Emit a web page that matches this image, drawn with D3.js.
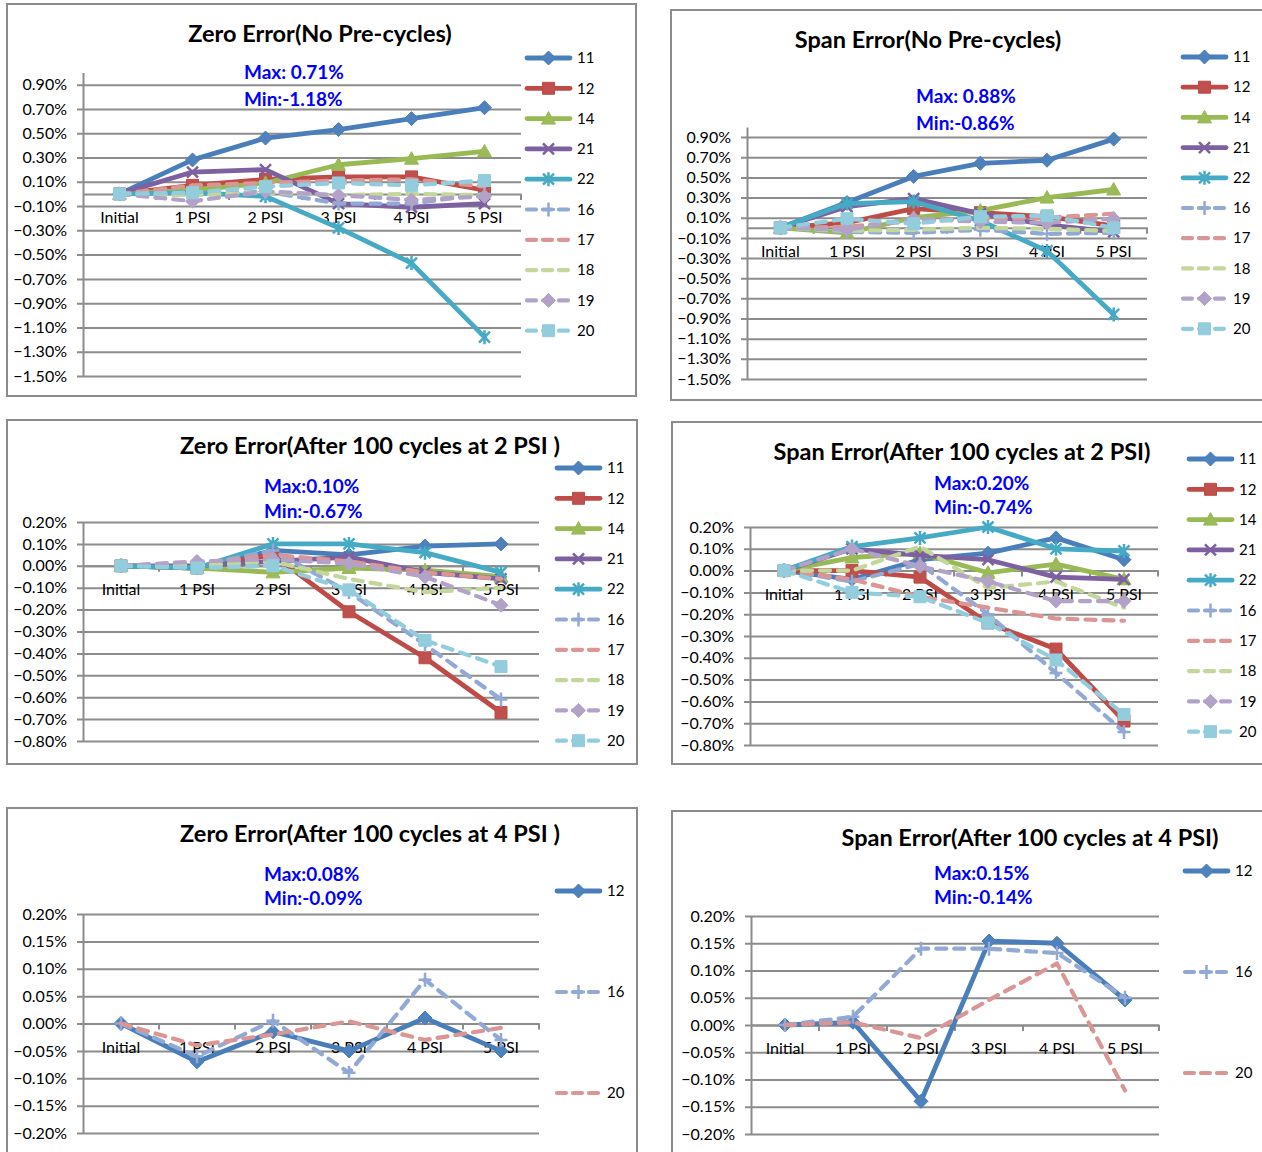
<!DOCTYPE html>
<html><head><meta charset="utf-8">
<script src="https://cdn.jsdelivr.net/npm/d3@7"></script>
<style>
body{margin:0;background:#fff;}
text{font-family:Lato,"Open Sans","DejaVu Sans",sans-serif;}
</style>
</head><body>
<svg id="chart" width="1262" height="1152"></svg>
<script>
// ---------------- DATA ----------------
const categories = ["Initial", "1 PSI", "2 PSI", "3 PSI", "4 PSI", "5 PSI"];
const seriesTop = ["11", "12", "14", "21", "22", "16", "17", "18", "19", "20"];
const seriesBottom = ["12", "16", "20"];

// values in % ; rows follow seriesTop / seriesBottom order
const zeroNoPre = [
  [0, 0.28, 0.46, 0.53, 0.62, 0.71],
  [0, 0.07, 0.12, 0.14, 0.14, 0.03],
  [0, 0.03, 0.09, 0.24, 0.29, 0.35],
  [0, 0.18, 0.20, -0.08, -0.11, -0.08],
  [0, 0.01, -0.02, -0.28, -0.57, -1.18],
  [0, -0.01, 0.02, -0.08, -0.08, 0.00],
  [0, 0.07, 0.09, 0.11, 0.12, 0.06],
  [0, -0.01, 0.01, -0.01, 0.00, -0.01],
  [0, -0.06, 0.02, -0.01, -0.05, -0.02],
  [0, 0.01, 0.06, 0.09, 0.07, 0.11]
];
const spanNoPre = [
  [0, 0.25, 0.51, 0.64, 0.67, 0.88],
  [0, 0.05, 0.19, 0.15, 0.11, 0.02],
  [0, -0.05, 0.10, 0.17, 0.30, 0.38],
  [0, 0.21, 0.29, 0.14, 0.03, -0.04],
  [0, 0.24, 0.26, 0.07, -0.23, -0.86],
  [0, -0.04, -0.05, -0.02, -0.06, -0.05],
  [0, 0.01, 0.07, 0.09, 0.10, 0.14],
  [0, -0.03, -0.02, 0.00, -0.01, -0.03],
  [0, -0.02, 0.09, 0.06, 0.05, 0.09],
  [0, 0.09, 0.04, 0.11, 0.12, 0.00]
];
const zeroAfter2 = [
  [0, -0.01, 0.07, 0.05, 0.09, 0.10],
  [0, -0.01, 0.05, -0.21, -0.42, -0.67],
  [0, -0.01, -0.03, -0.01, -0.02, -0.05],
  [0, 0.00, 0.02, 0.04, -0.03, -0.06],
  [0, -0.01, 0.10, 0.10, 0.06, -0.03],
  [0, 0.00, 0.07, -0.12, -0.36, -0.61],
  [0, 0.01, 0.05, 0.02, -0.03, -0.06],
  [0, 0.00, 0.02, -0.06, -0.12, -0.10],
  [0, 0.02, 0.03, 0.01, -0.05, -0.18],
  [0, -0.01, 0.00, -0.11, -0.34, -0.46]
];
const spanAfter2 = [
  [0, -0.04, 0.05, 0.08, 0.15, 0.05],
  [0, 0.00, -0.03, -0.24, -0.36, -0.69],
  [0, 0.06, 0.08, -0.01, 0.03, -0.04],
  [0, 0.10, 0.07, 0.05, -0.03, -0.04],
  [0, 0.11, 0.15, 0.20, 0.10, 0.09],
  [0, -0.05, 0.03, -0.20, -0.47, -0.74],
  [0, -0.04, -0.12, -0.17, -0.22, -0.23],
  [0, 0.00, 0.11, -0.08, -0.05, -0.17],
  [0, 0.10, 0.02, -0.05, -0.14, -0.14],
  [0, -0.10, -0.12, -0.24, -0.41, -0.66]
];
const zeroAfter4 = [
  [0, -0.07, -0.015, -0.05, 0.01, -0.05],
  [0, -0.06, 0.005, -0.09, 0.08, -0.03],
  [0, -0.04, -0.02, 0.004, -0.03, -0.008]
];
const spanAfter4 = [
  [0, 0.005, -0.14, 0.154, 0.15, 0.046],
  [0, 0.015, 0.14, 0.14, 0.132, 0.05],
  [0, 0.005, -0.024, 0.046, 0.113, -0.12]
];

const ticksWide = [0.9, 0.7, 0.5, 0.3, 0.1, -0.1, -0.3, -0.5, -0.7, -0.9, -1.1, -1.3, -1.5];
const ticksMid = [0.2, 0.1, 0, -0.1, -0.2, -0.3, -0.4, -0.5, -0.6, -0.7, -0.8];
const ticksNarrow = [0.2, 0.15, 0.1, 0.05, 0, -0.05, -0.1, -0.15, -0.2];

const titles = [
  "Zero Error(No Pre-cycles)",
  "Span Error(No Pre-cycles)",
  "Zero Error(After 100 cycles at 2 PSI )",
  "Span Error(After 100 cycles at 2 PSI)",
  "Zero Error(After 100 cycles at 4 PSI )",
  "Span Error(After 100 cycles at 4 PSI)"
];
const maxLabels = ["Max: 0.71%", "Max: 0.88%", "Max:0.10%", "Max:0.20%", "Max:0.08%", "Max:0.15%"];
const minLabels = ["Min:-1.18%", "Min:-0.86%", "Min:-0.67%", "Min:-0.74%", "Min:-0.09%", "Min:-0.14%"];

// ---------------- STYLES ----------------
const styles = {
  s1: {color: "#4A7EBB", fill: "#4F81BD", dash: null, marker: "diamond"},
  s2: {color: "#BE4B48", fill: "#C0504D", dash: null, marker: "square"},
  s3: {color: "#98B954", fill: "#9BBB59", dash: null, marker: "triangle"},
  s4: {color: "#7D60A0", fill: "#8064A2", dash: null, marker: "x"},
  s5: {color: "#46AAC5", fill: "#4BACC6", dash: null, marker: "star"},
  s6: {color: "#91A9D4", fill: "#95B3D7", dash: "10,8", marker: "plus"},
  s7: {color: "#D99694", fill: "#D99694", dash: "10,8", marker: null},
  s8: {color: "#C3D69B", fill: "#C3D69B", dash: "10,8", marker: null},
  s9: {color: "#B3A2C7", fill: "#B3A2C7", dash: "10,8", marker: "diamond"},
  s10: {color: "#93CDDD", fill: "#93CDDD", dash: "10,8", marker: "square"}
};
const styleTop = ["s1", "s2", "s3", "s4", "s5", "s6", "s7", "s8", "s9", "s10"];
const styleBottom = ["s1", "s6", "s7"];

const panels = [
  {frame: [7, 4, 629, 392], left: 83, right: 521, top: 72.5, bottom: 376, domain: [-1.5, 1.0], ticks: ticksWide,
   title: [320, 34], ann: [244, 72, 99], legend: [525, 58, 30.3], names: seriesTop, st: styleTop, data: zeroNoPre},
  {frame: [671, 10, 640, 390], left: 747, right: 1147, top: 127, bottom: 379, domain: [-1.5, 1.0], ticks: ticksWide,
   title: [928, 40], ann: [916, 96, 123], legend: [1181, 57, 30.2], names: seriesTop, st: styleTop, data: spanNoPre},
  {frame: [7, 420, 630, 344], left: 83, right: 539, top: 522, bottom: 741, domain: [-0.8, 0.2], ticks: ticksMid,
   title: [370, 446], ann: [264, 486, 511], legend: [555, 468, 30.3], names: seriesTop, st: styleTop, data: zeroAfter2},
  {frame: [672, 422, 640, 342], left: 750, right: 1158, top: 527, bottom: 745, domain: [-0.8, 0.2], ticks: ticksMid,
   title: [962, 452], ann: [934, 483, 507], legend: [1187, 459, 30.3], names: seriesTop, st: styleTop, data: spanAfter2},
  {frame: [7, 808, 630, 400], left: 83, right: 539, top: 914, bottom: 1133, domain: [-0.2, 0.2], ticks: ticksNarrow,
   title: [370, 834], ann: [264, 874, 898], legend: [555, 891, 101], names: seriesBottom, st: styleBottom, data: zeroAfter4},
  {frame: [672, 811, 640, 400], left: 751, right: 1159, top: 916, bottom: 1134, domain: [-0.2, 0.2], ticks: ticksNarrow,
   title: [1030, 838], ann: [934, 873, 897], legend: [1183, 871, 101], names: seriesBottom, st: styleBottom, data: spanAfter4}
];

const axisColor = "#8C8C8C";
const svg = d3.select("#chart");

function markerPath(type) {
  switch (type) {
    case "diamond": return "M0,-7L7,0L0,7L-7,0Z";
    case "square": return "M-6,-6H6V6H-6Z";
    case "triangle": return "M0,-7L7,5.5L-7,5.5Z";
    case "x": return "M-5.5,-5.5L5.5,5.5M-5.5,5.5L5.5,-5.5";
    case "star": return "M-5.5,-5.5L5.5,5.5M-5.5,5.5L5.5,-5.5M0,-7V7";
    case "plus": return "M-6.5,0H6.5M0,-7V7";
  }
  return null;
}
function drawMarker(g, type, st, x, y) {
  if (!type) return;
  const filled = ["diamond", "square", "triangle"].includes(type);
  g.append("path")
    .attr("d", markerPath(type))
    .attr("transform", `translate(${x},${y})`)
    .attr("fill", filled ? st.fill : "none")
    .attr("stroke", st.color)
    .attr("stroke-width", filled ? 1 : 2.5);
}

panels.forEach((p, pi) => {
  const g = svg.append("g");
  // frame
  g.append("rect").attr("x", p.frame[0]).attr("y", p.frame[1]).attr("width", p.frame[2]).attr("height", p.frame[3])
    .attr("fill", "#fff").attr("stroke", axisColor).attr("stroke-width", 2);

  const y = d3.scaleLinear().domain(p.domain).range([p.bottom, p.top]);
  const x = d3.scaleBand().domain(categories).range([p.left, p.right]).paddingInner(0).paddingOuter(0);

  // gridlines
  const grid = g.append("g").attr("transform", `translate(${p.left - 6},0)`)
    .call(d3.axisLeft(y).tickValues(p.ticks).tickSize(-(p.right - p.left + 6)).tickFormat(""));
  grid.select(".domain").remove();
  grid.selectAll("line").attr("stroke", axisColor).attr("stroke-width", 2);

  // y axis with labels
  const ya = g.append("g").attr("transform", `translate(${p.left},0)`)
    .call(d3.axisLeft(y).tickValues(p.ticks).tickSize(0).tickSizeOuter(0).tickPadding(16)
      .tickFormat(v => d3.format(".2f")(v) + "%"));
  ya.select(".domain").attr("stroke", axisColor).attr("stroke-width", 2);
  ya.selectAll("text").attr("font-size", 16).attr("fill", "#000").attr("font-family", "Lato");

  // x axis at zero
  const y0 = y(0);
  const xa = g.append("g").attr("transform", `translate(0,${y0})`)
    .call(d3.axisBottom(x).tickSize(0).tickSizeOuter(0).tickPadding(18));
  xa.select(".domain").attr("stroke", axisColor).attr("stroke-width", 2);
  xa.selectAll("text").attr("font-size", 16).attr("fill", "#000").attr("font-family", "Lato");
  const bounds = categories.map(c => x(c)).concat([x.range()[1]]).slice(1);
  xa.selectAll("line.bt").data(bounds).enter().append("line").attr("class", "bt")
    .attr("x1", d => d).attr("x2", d => d).attr("y1", 0).attr("y2", 6)
    .attr("stroke", axisColor).attr("stroke-width", 2);

  // series
  const line = d3.line().x((d, i) => x(categories[i]) + x.bandwidth() / 2).y(d => y(d));
  p.data.forEach((vals, si) => {
    const st = styles[p.st[si]];
    g.append("path").attr("d", line(vals)).attr("fill", "none")
      .attr("stroke", st.color).attr("stroke-width", st.dash ? 4.2 : 4.8)
      .attr("stroke-linejoin", "round").attr("stroke-linecap", "round")
      .attr("stroke-dasharray", st.dash);
    vals.forEach((v, i) => drawMarker(g, st.marker, st, x(categories[i]) + x.bandwidth() / 2, y(v)));
  });

  // title
  g.append("text").attr("x", p.title[0]).attr("y", p.title[1]).attr("dy", "0.35em")
    .attr("text-anchor", "middle").attr("font-size", 23.5).attr("font-weight", "bold").text(titles[pi]);
  // annotations
  g.append("text").attr("x", p.ann[0]).attr("y", p.ann[1]).attr("dy", "0.35em")
    .attr("font-size", 19).attr("font-weight", "bold").attr("fill", "#0000FF").text(maxLabels[pi]);
  g.append("text").attr("x", p.ann[0]).attr("y", p.ann[2]).attr("dy", "0.35em")
    .attr("font-size", 19).attr("font-weight", "bold").attr("fill", "#0000FF").text(minLabels[pi]);

  // legend
  p.names.forEach((n, si) => {
    const st = styles[p.st[si]];
    const ly = p.legend[1] + si * p.legend[2];
    const lx = p.legend[0];
    g.append("line").attr("x1", lx + 2).attr("x2", lx + 45).attr("y1", ly).attr("y2", ly)
      .attr("stroke", st.color).attr("stroke-width", st.dash ? 4.2 : 4.8)
      .attr("stroke-linecap", "round").attr("stroke-dasharray", st.dash ? "9,7" : null);
    drawMarker(g, st.marker, st, lx + 23.5, ly);
    g.append("text").attr("x", lx + 52).attr("y", ly).attr("dy", "0.35em")
      .attr("font-size", 15).text(n);
  });
});
</script>
</body></html>
